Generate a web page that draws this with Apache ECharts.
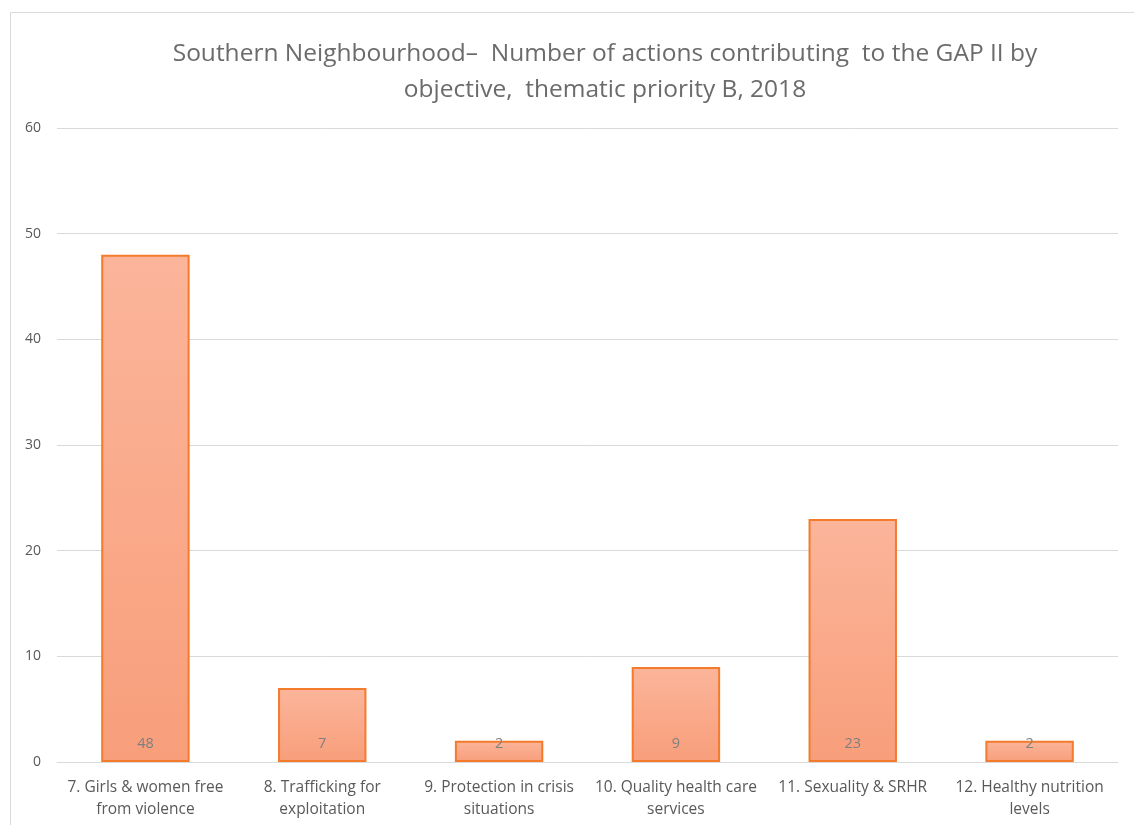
<!DOCTYPE html>
<html><head><meta charset="utf-8">
<script src="https://cdn.jsdelivr.net/npm/echarts@6/dist/echarts.min.js"></script>
<style>html,body{margin:0;padding:0;background:#fff}#c{width:1134px;height:825px}</style>
</head><body><div id="c"></div>
<script>
const categories = ["7. Girls & women free\nfrom violence","8. Trafficking for\nexploitation","9. Protection in crisis\nsituations","10. Quality health care\nservices","11. Sexuality & SRHR","12. Healthy nutrition\nlevels"];
const values = [48, 7, 2, 9, 23, 2];
const yTicks = [0, 10, 20, 30, 40, 50, 60];
const titleText = "Southern Neighbourhood\u2013  Number of actions contributing  to the GAP II by\nobjective,  thematic priority B, 2018";

const chart = echarts.init(document.getElementById('c'));
chart.setOption({
  backgroundColor: '#fff',
  animation: false,
  graphic: [{type:'rect', shape:{x:10.5,y:12.5,width:1140,height:830}, style:{fill:'none', stroke:'#d9d9d9', lineWidth:1}}],
  title: {text: titleText, left: 600, textAlign: 'center', top: 31,
    textStyle:{fontFamily:'Open Sans', fontSize:24.5, fontWeight:'normal', color:'#6b6b6b', lineHeight:36}},
  grid: {left:57, right:16, top:128, bottom:63},
  xAxis: {type:'category', data: categories,
    axisLine:{lineStyle:{color:'#d9d9d9'}}, axisTick:{show:false},
    axisLabel:{interval:0, color:'#595959', fontFamily:'Open Sans', fontSize:15.5, lineHeight:22, margin:15}},
  yAxis: {type:'value', min:yTicks[0], max:yTicks[yTicks.length-1], interval:10,
    axisLine:{show:false}, axisTick:{show:false},
    splitLine:{lineStyle:{color:'#d9d9d9'}},
    axisLabel:{color:'#595959', fontFamily:'Open Sans', fontSize:14, margin:16}},
  series: [{type:'bar', data: values, barWidth:'50%',
    itemStyle:{color:{type:'linear',x:0,y:0,x2:0,y2:1,colorStops:[{offset:0,color:'#fbb59a'},{offset:1,color:'#f89e7b'}]},
      borderColor:'#f47a2c', borderWidth:2},
    label:{show:true, position:'insideBottom', distance:11, color:'#7f7f7f', fontFamily:'Open Sans', fontSize:14.5}}]
});
</script></body></html>
